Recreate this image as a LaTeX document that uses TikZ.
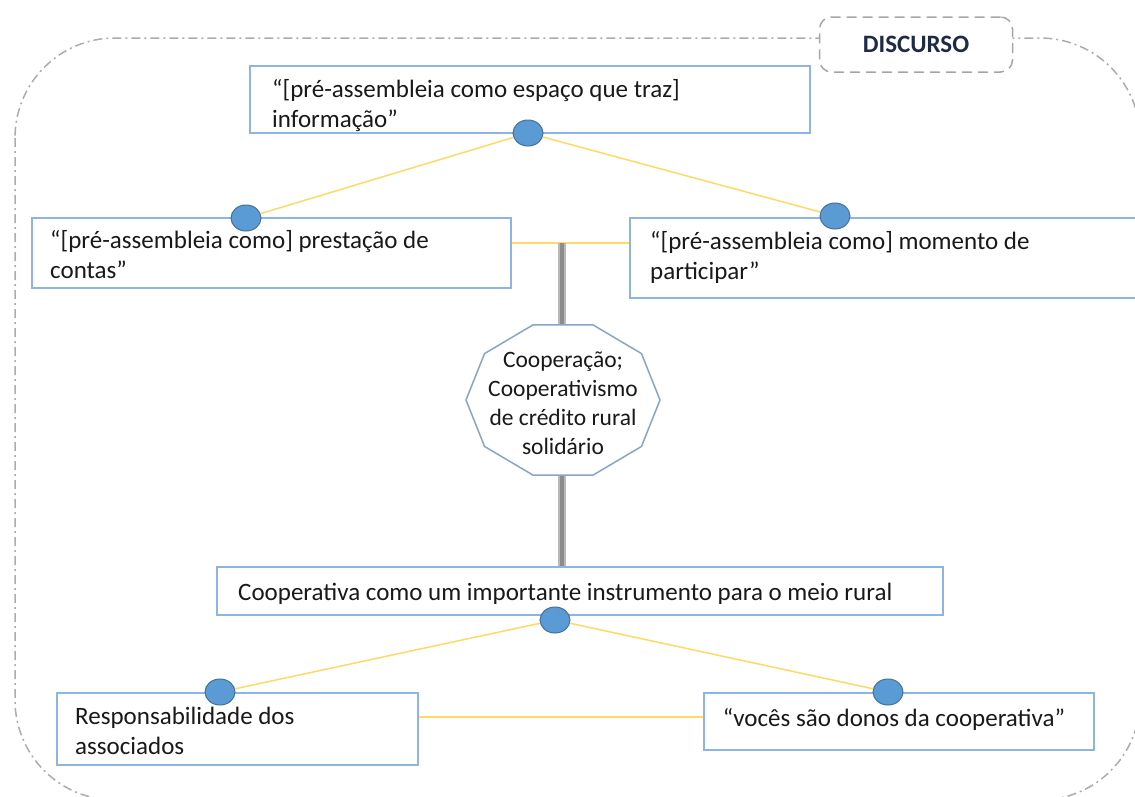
\documentclass[tikz,border=0pt]{standalone}
\usepackage{fontspec}
\setmainfont{Carlito}
\usetikzlibrary{shapes.geometric}
\definecolor{boxblue}{HTML}{8EB4E3}
\definecolor{dotblue}{HTML}{5B9BD5}
\definecolor{dotedge}{HTML}{41719C}
\definecolor{linkyellow}{HTML}{FFD966}
\definecolor{txtnavy}{HTML}{1F2A44}
\begin{document}
\begin{tikzpicture}[x=1pt,y=-1pt,
	quote box/.style = {draw=boxblue, line width=1.5pt, fill=white, inner sep=0pt},
	quote text/.style = {anchor=north west, inner sep=0pt, align=left, text=black!90,
		font=\fontsize{25}{30}\selectfont, execute at begin node=\strut},
	link dot/.style = {ellipse, draw=dotedge, fill=dotblue, line width=1pt,
		minimum width=30pt, minimum height=26pt, inner sep=0pt},
	link/.style = {draw=linkyellow, line width=1.5pt},
	bar/.style = {draw=gray!55, line width=2pt, double=gray!90, double distance=4.5pt}]
	
	\useasboundingbox (0,0) rectangle (1135,796);
	
	% outer frame
	\draw[gray!65, line width=1.5pt, dash pattern=on 9pt off 4pt on 2pt off 4pt,
		rounded corners=100pt] (15,38) rectangle (1140,800);
	\node[draw=gray!70, fill=white, line width=1.5pt, dash pattern=on 10pt off 6pt,
		rounded corners=12pt, minimum width=193pt, minimum height=55pt,
		font=\fontsize{25}{28}\selectfont\bfseries, text=txtnavy] (discurso) at (916,44.5) {DISCURSO};
	
	% boxes
	\node[quote box, minimum width=560pt, minimum height=67pt] (info) at (530,99.5) {};
	\node[quote box, minimum width=479pt, minimum height=70pt] (contas) at (271.5,253) {};
	\node[quote box, minimum width=515pt, minimum height=80pt] (participar) at (887.5,258) {};
	\node[quote box, minimum width=726pt, minimum height=48pt] (instr) at (580,591) {};
	\node[quote box, minimum width=361pt, minimum height=72pt] (resp) at (237.5,729) {};
	\node[quote box, minimum width=390pt, minimum height=57pt] (donos) at (899,721.5) {};
	
	% dots
	\node[link dot] (d1) at (528,133) {};
	\node[link dot] (d2) at (246,218) {};
	\node[link dot] (d3) at (835,216) {};
	\node[link dot] (d4) at (555,620) {};
	\node[link dot] (d5) at (220,692) {};
	\node[link dot] (d6) at (888,692) {};
	
	\path[link] (d1) edge (d2) (d1) edge (d3)
		(d4) edge (d5) (d4) edge (d6);
	
	\coordinate (j1) at (562,243);
	\coordinate (j2) at (560,717);
	\draw[link] (contas.east |- j1) -- (participar.west |- j1);
	\draw[link] (resp.east |- j2) -- (donos.west |- j2);
	
	% central decagon
	\coordinate (htop) at (562,325);
	\coordinate (hbot) at (562,475);
	\draw[bar] (j1) -- (htop);
	\draw[bar] (hbot) -- (hbot |- instr.north);
	\draw[draw=boxblue!70!gray, line width=1.5pt, fill=white, shift={(563,400)}]
		(0:97 and 79) \foreach \a in {36,72,...,324} {-- (\a:97 and 79)} -- cycle;
	\node[align=center, text=black!90, font=\fontsize{23.5}{29}\selectfont] (hub) at (563,403)
		{Cooperação;\\Cooperativismo\\de crédito rural\\solidário};
	
	% texts
	\node[quote text] (t1) at (272,79.7) {“[pré-assembleia como espaço que traz]\\informação”};
	\node[quote text] (t2) at (50,230.7) {“[pré-assembleia como] prestação de\\contas”};
	\node[quote text] (t3) at (650,231.7) {“[pré-assembleia como] momento de\\participar”};
	\node[quote text] (t4) at (238,579.7) {Cooperativa como um importante instrumento para o meio rural};
	\node[quote text] (t5) at (75,706.7) {Responsabilidade dos\\associados};
	\node[quote text, anchor=base] (t6) at (894,726) {“vocês são donos da cooperativa”};
\end{tikzpicture}
\end{document}
